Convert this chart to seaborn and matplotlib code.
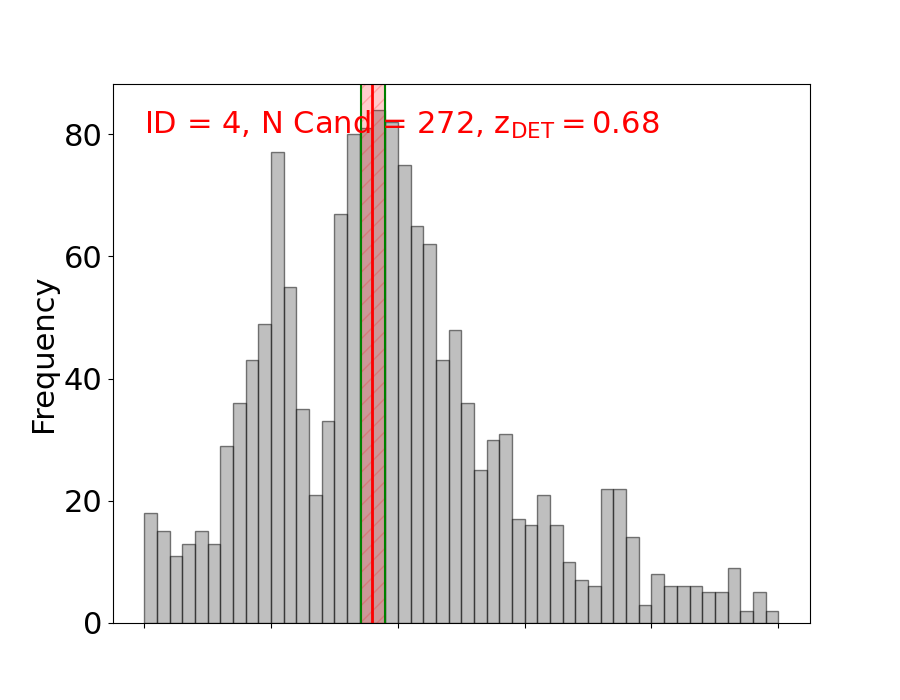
import numpy as np
import pandas as pd
import matplotlib
matplotlib.use("Agg")
import matplotlib.pyplot as plt
import seaborn as sns

# counts, 50 bins
counts = [18, 15, 11, 13, 15, 13, 29, 36, 43, 49,
          77, 55, 35, 21, 33, 67, 80, 81, 84, 82,
          75, 65, 62, 43, 48, 36, 25, 30, 31, 17,
          16, 21, 16, 10, 7, 6, 22, 22, 14, 3,
          8, 6, 6, 6, 5, 5, 9, 2, 5, 2]
edges = list(range(len(counts) + 1))
z_det = 18.0
z_lo, z_hi = 17.1, 19.0
label = r"ID = 4, N Cand = 272, $\mathrm{z_{DET}} = 0.68$"

df = pd.DataFrame({"z": np.array(edges[:-1]) + 0.5, "n": counts})

fig, ax = plt.subplots(figsize=(9, 7), dpi=100)

sns.histplot(data=df, x="z", weights="n", bins=edges, color="gray",
             alpha=0.5, edgecolor=(0, 0, 0, 0.5), linewidth=1, ax=ax)

ax.axvspan(z_lo, z_hi, color="red", alpha=0.2, hatch="//")
ax.axvline(z_lo, color="green", lw=1.5)
ax.axvline(z_hi, color="green", lw=1.5)
ax.axvline(z_det, color="red", lw=2)

ax.text(edges[0], 80, label, color="red", fontsize=22)

ax.set_xticks(np.arange(0, 51, 10))
ax.set_xticklabels([])
ax.set_yticks([0, 20, 40, 60, 80])
ax.set_ylabel("Frequency", fontsize=22)
ax.set_xlabel("")
ax.tick_params(axis="y", labelsize=22)

fig.savefig("out.png", dpi=100)
